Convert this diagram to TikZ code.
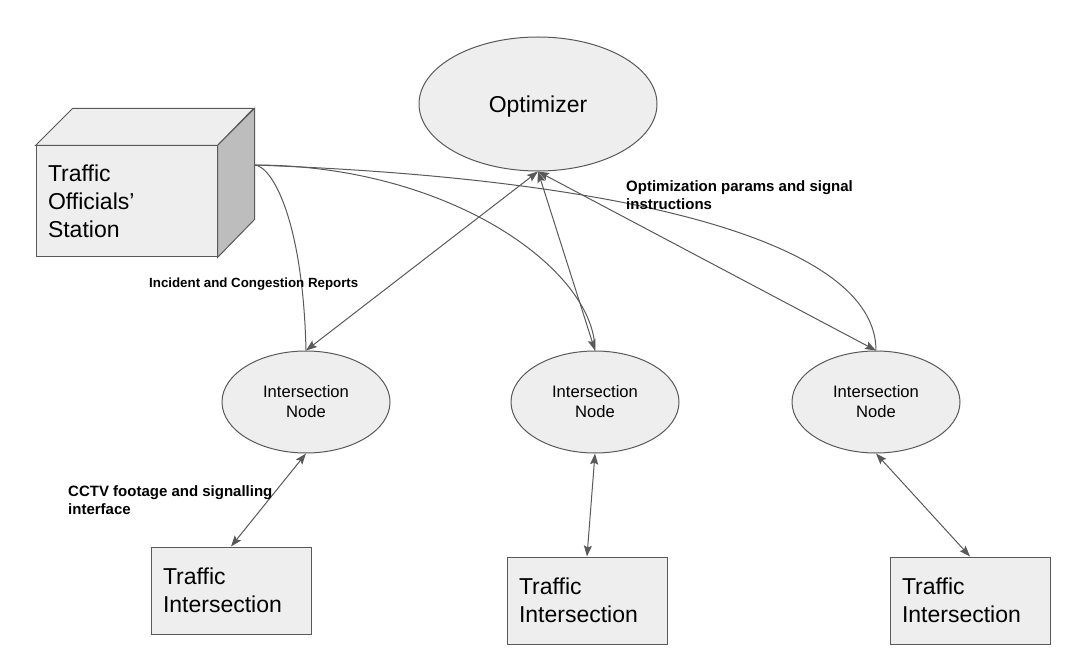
\documentclass[tikz,border=0pt]{standalone}
\usepackage{fontspec}
\setmainfont{Liberation Sans}
\usetikzlibrary{shapes.geometric, arrows.meta}
\definecolor{ln}{HTML}{595959}
\definecolor{fl}{HTML}{EEEEEE}
\definecolor{sd}{HTML}{BDBDBD}
\tikzset{
  box/.style={draw=ln, fill=fl, line width=1pt, minimum width=160pt, minimum height=87pt, text width=136pt, align=left, inner sep=0pt, font=\fontsize{23}{28}\selectfont},
  inode/.style={ellipse, draw=ln, fill=fl, line width=1pt, minimum width=168pt, minimum height=102pt, inner sep=0pt, align=center, font=\fontsize{16.6}{20}\selectfont},
  lbl/.style={anchor=west, align=left, inner sep=0pt, font=\bfseries\fontsize{15}{18}\selectfont},
  link/.style={draw=ln, line width=1pt}
}
\begin{document}
\begin{tikzpicture}[x=1pt, y=-1pt, >={Stealth[length=11pt, width=8pt, inset=2pt]}]
\useasboundingbox (0,0) rectangle (1082,663);
\node[inode, minimum width=238pt, minimum height=134pt, text depth=0pt, font=\fontsize{23}{28}\selectfont] (opt) at (538,104) {Optimizer};
\node[box, minimum width=181pt, minimum height=111pt, text width=157pt] (sta) at (126.5,201.5) {Traffic\\Officials'\\Station};
\draw[link, fill=fl] (sta.north west) -- ++(37,-37) -- ++(181,0) -- (sta.north east) -- cycle;
\draw[link, fill=sd] (sta.north east) -- ++(37,-37) -- ++(0,111) -- (sta.south east) -- cycle;
\coordinate (stn) at (254,165);
\node[inode] (in1) at (306,402) {Intersection\\Node};
\node[inode] (in2) at (595,402) {Intersection\\Node};
\node[inode] (in3) at (876,402) {Intersection\\Node};
\node[box] (ti1) at (231,590.5) {Traffic\\Intersection};
\node[box] (ti2) at (587,600.5) {Traffic\\Intersection};
\node[box] (ti3) at (970,600.5) {Traffic\\Intersection};
\draw[link] (stn) .. controls (272,165) and (303,220) .. (in1.north);
\draw[link] (stn) .. controls (450,165) and (595,270) .. (in2.north);
\draw[link] (stn) .. controls (620,178) and (876,240) .. (in3.north);
\draw[link, <->] (opt.south) -- (in1.north);
\draw[link, <->] (opt.south) -- (in2.north);
\draw[link, <->] (opt.south) -- (in3.north);
\draw[link, <->] (in1.south) -- (ti1.north);
\draw[link, <->] (in2.south) -- (ti2.north);
\draw[link, <->] (in3.south) -- (ti3.north);
\node[lbl, font=\bfseries\fontsize{13.3}{16}\selectfont] (lrep) at (149,284) {Incident and Congestion Reports};
\node[lbl] (lopt) at (626,195) {Optimization params and signal\\instructions};
\node[lbl] (lcam) at (68,500) {CCTV footage and signalling\\interface};
\end{tikzpicture}
\end{document}
